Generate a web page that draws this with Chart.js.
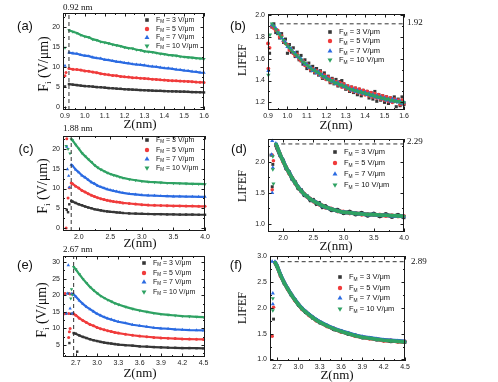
<!DOCTYPE html>
<html><head><meta charset="utf-8">
<script src="https://cdn.jsdelivr.net/npm/chart.js@4.4.1/dist/chart.umd.min.js"></script>
<style>
html,body{margin:0;padding:0;background:#fff;}
#wrap{position:relative;width:498px;height:382px;overflow:hidden;background:#fff;}
canvas{position:absolute;left:0;top:0;}
</style></head><body>
<div id="wrap">
<canvas id="pa" width="498" height="382"></canvas>
<canvas id="pb" width="498" height="382"></canvas>
<canvas id="pc" width="498" height="382"></canvas>
<canvas id="pd" width="498" height="382"></canvas>
<canvas id="pe" width="498" height="382"></canvas>
<canvas id="pf" width="498" height="382"></canvas>
</div>
<script>
// ---------- series names (F_M in V/μm) ----------
const fieldValues = ['3', '5', '7', '10'];

// ---------- panel (a): F_i vs Z, tip at 0.92 nm ----------
const zA = [0.92,0.94,0.96,0.98,1.00,1.02,1.04,1.06,1.08,1.10,1.12,1.14,1.16,1.18,1.20,1.22,1.24,1.26,1.28,1.30,1.32,1.34,1.36,1.38,1.40,1.42,1.44,1.46,1.48,1.50,1.52,1.54,1.56,1.58,1.60];
const aF3  = [5.7,5.55,5.45,5.3,5.2,5.15,5.05,4.95,4.9,4.8,4.7,4.65,4.55,4.5,4.4,4.35,4.3,4.25,4.2,4.15,4.1,4.05,4.0,4.0,3.95,3.9,3.88,3.85,3.8,3.8,3.75,3.7,3.68,3.65,3.6];
const aF5  = [9.6,9.4,9.35,9.2,9.0,8.9,8.7,8.55,8.3,8.15,8.0,7.85,7.8,7.6,7.5,7.45,7.3,7.25,7.15,7.1,7.0,6.9,6.85,6.75,6.7,6.6,6.55,6.5,6.45,6.4,6.35,6.3,6.2,6.15,6.1];
const aF7  = [13.6,13.4,13.3,13.0,12.8,12.7,12.4,12.2,12.1,11.8,11.7,11.5,11.3,11.2,11.0,10.9,10.7,10.6,10.5,10.4,10.2,10.1,10.0,9.85,9.7,9.65,9.5,9.35,9.25,9.1,9.0,8.85,8.75,8.6,8.5];
const aF10 = [19.2,18.8,18.5,18.0,17.6,17.4,16.9,16.7,16.3,16.1,15.9,15.6,15.4,15.2,14.9,14.7,14.6,14.3,14.2,13.9,13.8,13.7,13.5,13.3,13.2,13.0,12.9,12.8,12.6,12.5,12.4,12.3,12.2,12.1,12.0];
const aPre3 = [[0.90,5.1]];
const aPre5 = [[0.90,7.8],[0.905,8.6]];
const aPre7 = [[0.90,10.3]];
const aPre10 = [[0.90,14.8]];
const aXTicks = ['0.9','1.0','1.1','1.2','1.3','1.4','1.5','1.6'];
const aYTicks = ['0','5','10','15','20'];
const aGuide = 0.92;

// ---------- panel (b): LIFEF vs Z ----------
const zB = [0.92,0.93,0.94,0.95,0.96,0.97,0.98,0.99,1.00,1.01,1.02,1.03,1.04,1.05,1.06,1.07,1.08,1.09,1.10,1.11,1.12,1.13,1.14,1.15,1.16,1.17,1.18,1.19,1.20,1.21,1.22,1.23,1.24,1.25,1.26,1.27,1.28,1.29,1.30,1.31,1.32,1.33,1.34,1.35,1.36,1.37,1.38,1.39,1.40,1.41,1.42,1.43,1.44,1.45,1.46,1.47,1.48,1.49,1.50,1.51,1.52,1.53,1.54,1.55,1.56,1.57,1.58,1.59,1.60];
const bL3  = [1.89,1.92,1.84,1.83,1.79,1.83,1.75,1.78,1.65,1.73, 1.66,1.70,1.62,1.66,1.59,1.63,1.55,1.59,1.51,1.56, 1.49,1.53,1.47,1.51,1.45,1.49,1.42,1.47,1.41,1.44, 1.38,1.42,1.37,1.41,1.35,1.39,1.40,1.37,1.32,1.35, 1.30,1.34,1.29,1.33,1.27,1.32,1.26,1.31,1.29,1.30, 1.24,1.29,1.23,1.30,1.21,1.27,1.22,1.26,1.20,1.25, 1.19,1.24,1.21,1.25,1.16,1.23,1.17,1.25,1.18];
const bL5  = [1.90,1.88,1.86,1.86,1.80,1.81,1.76,1.74,1.73,1.68, 1.69,1.65,1.63,1.64,1.60,1.58,1.58,1.54,1.55,1.52, 1.50,1.51,1.48,1.49,1.46,1.48,1.43,1.45,1.41,1.43, 1.39,1.41,1.38,1.39,1.36,1.38,1.34,1.37,1.33,1.35, 1.31,1.34,1.30,1.33,1.29,1.32,1.28,1.31,1.27,1.30, 1.26,1.29,1.25,1.28,1.24,1.27,1.23,1.26,1.22,1.25, 1.21,1.24,1.20,1.23,1.21,1.22,1.18,1.22,1.19];
const bL7  = [1.91,1.90,1.88,1.84,1.83,1.79,1.77,1.75,1.71,1.70, 1.69,1.66,1.65,1.62,1.61,1.60,1.57,1.55,1.55,1.52, 1.52,1.49,1.50,1.47,1.48,1.45,1.45,1.43,1.43,1.41, 1.41,1.39,1.39,1.37,1.38,1.36,1.36,1.34,1.35,1.33, 1.33,1.31,1.32,1.30,1.31,1.29,1.30,1.28,1.29,1.27, 1.28,1.26,1.27,1.25,1.26,1.24,1.25,1.23,1.24,1.22, 1.23,1.21,1.23,1.21,1.22,1.20,1.21,1.19,1.20];
const bL10 = [1.92,1.90,1.87,1.84,1.82,1.80,1.77,1.74,1.72,1.70, 1.68,1.66,1.64,1.63,1.61,1.59,1.57,1.56,1.54,1.53, 1.51,1.50,1.49,1.48,1.47,1.46,1.44,1.44,1.42,1.41, 1.40,1.40,1.38,1.38,1.37,1.36,1.36,1.35,1.34,1.33, 1.32,1.32,1.31,1.31,1.30,1.30,1.29,1.29,1.28,1.28, 1.27,1.27,1.26,1.26,1.25,1.25,1.24,1.24,1.23,1.23, 1.23,1.22,1.22,1.21,1.21,1.21,1.20,1.20,1.20];
const bPre3 = [[0.908,1.65]];
const bPre5 = [[0.900,1.74],[0.902,1.51],[0.908,1.70]];
const bPre7 = [[0.902,1.49]];
const bPre10 = [[0.902,1.45],[0.910,1.82]];
const bXTicks = ['0.9','1.0','1.1','1.2','1.3','1.4','1.5','1.6'];
const bYTicks = ['1.2','1.4','1.6','1.8','2.0'];
const bPeak = 1.92;

// ---------- panel (c): F_i vs Z, tip at 1.88 nm ----------
const zC = [1.88,1.90,1.95,2.00,2.05,2.10,2.15,2.20,2.25,2.30,2.35,2.40,2.45,2.50,2.55,2.60,2.65,2.70,2.80,2.90,3.00,3.10,3.20,3.30,3.40,3.50,3.60,3.70,3.80,3.90,4.00];
const cF3  = [6.85,6.7,6.35,6.0,5.75,5.45,5.2,5.0,4.75,4.6,4.45,4.3,4.2,4.1,4.05,3.95,3.9,3.8,3.7,3.65,3.6,3.55,3.5,3.5,3.45,3.45,3.4,3.4,3.4,3.35,3.35];
const cF5  = [11.4,11.2,10.6,10.1,9.5,9.1,8.7,8.3,7.95,7.65,7.4,7.2,7.0,6.85,6.7,6.6,6.5,6.35,6.2,6.05,5.9,5.8,5.75,5.7,5.65,5.6,5.6,5.55,5.55,5.5,5.5];
const cF7  = [16.0,15.8,14.8,14.1,13.3,12.8,12.2,11.6,11.2,10.7,10.4,10.1,9.8,9.6,9.4,9.25,9.05,8.9,8.65,8.5,8.35,8.25,8.2,8.1,8.05,8.0,8.0,7.95,7.95,7.9,7.9];
const cF10 = [22.5,22.2,21.1,20.1,19.0,18.2,17.4,16.7,15.9,15.3,14.8,14.4,14.0,13.7,13.4,13.2,12.9,12.7,12.35,12.1,11.85,11.7,11.6,11.5,11.4,11.35,11.3,11.25,11.2,11.15,11.1];
const cPre3 = [[1.81,4.6],[1.83,4.0],[1.85,6.0]];
const cPre5 = [[1.80,0.0],[1.81,22.6],[1.83,7.6],[1.85,10.2]];
const cPre7 = [[1.81,20.6],[1.82,14.9],[1.84,13.2],[1.85,10.3]];
const cPre10 = [[1.80,20.8],[1.83,20.0],[1.86,18.9]];
const cXTicks = ['2.0','2.5','3.0','3.5','4.0'];
const cYTicks = ['0','5','10','15','20'];
const cGuide = 1.88;

// ---------- panel (d): LIFEF vs Z (same Z grid as (c)) ----------
const dL3  = [2.27,2.22,2.10,2.03,1.89,1.84,1.72,1.68,1.57,1.55,1.46,1.45,1.38,1.39,1.32,1.34,1.27,1.29,1.22,1.23,1.17,1.20,1.15,1.18,1.13,1.17,1.12,1.16,1.11,1.15,1.10];
const dL5  = [2.28,2.24,2.13,2.00,1.92,1.81,1.75,1.65,1.60,1.52,1.49,1.43,1.41,1.36,1.35,1.31,1.30,1.26,1.25,1.20,1.20,1.17,1.18,1.15,1.16,1.14,1.15,1.13,1.14,1.12,1.13];
const dL7  = [2.30,2.25,2.12,2.02,1.91,1.83,1.74,1.66,1.60,1.53,1.48,1.44,1.40,1.37,1.35,1.32,1.29,1.27,1.24,1.21,1.19,1.18,1.17,1.16,1.15,1.15,1.14,1.14,1.13,1.13,1.12];
const dL10 = [2.29,2.25,2.12,2.01,1.91,1.82,1.74,1.66,1.59,1.53,1.48,1.44,1.40,1.37,1.345,1.32,1.295,1.27,1.24,1.21,1.19,1.18,1.17,1.16,1.155,1.15,1.145,1.14,1.135,1.13,1.125];
const dPre3 = [[1.80,2.11],[1.83,1.96],[1.82,1.60]];
const dPre5 = [[1.82,2.11],[1.84,2.02],[1.82,1.55]];
const dPre7 = [[1.82,2.34],[1.81,2.12],[1.83,1.91],[1.82,1.50]];
const dPre10 = [[1.83,2.09],[1.83,1.88],[1.84,1.65]];
const dXTicks = ['2.0','2.5','3.0','3.5','4.0'];
const dYTicks = ['1.0','1.5','2.0'];
const dPeak = 2.29;

// ---------- panel (e): F_i vs Z, tip at 2.67 nm ----------
const zE = [2.67,2.70,2.75,2.80,2.85,2.90,2.95,3.00,3.05,3.10,3.15,3.20,3.25,3.30,3.40,3.50,3.60,3.70,3.80,3.90,4.00,4.10,4.20,4.30,4.40,4.50];
const eF3  = [8.6,8.4,7.9,7.45,7.1,6.75,6.45,6.2,5.95,5.75,5.6,5.45,5.3,5.15,4.95,4.8,4.6,4.5,4.4,4.3,4.2,4.15,4.1,4.1,4.05,4.0];
const eF5  = [14.4,14.0,13.1,12.4,11.8,11.2,10.8,10.3,9.9,9.6,9.3,9.05,8.8,8.6,8.25,7.95,7.7,7.5,7.3,7.15,7.05,6.95,6.85,6.8,6.75,6.7];
const eF7  = [20.2,19.6,18.4,17.4,16.5,15.8,15.1,14.4,13.9,13.4,13.0,12.7,12.3,12.0,11.6,11.1,10.8,10.5,10.2,10.0,9.9,9.7,9.6,9.5,9.45,9.4];
const eF10 = [28.5,27.8,26.3,24.9,23.7,22.5,21.5,20.6,19.8,19.2,18.6,18.1,17.6,17.2,16.5,15.9,15.4,15.0,14.6,14.3,14.1,13.9,13.7,13.6,13.5,13.4];
const ePre3 = [[2.54,20.4],[2.60,20.5],[2.66,20.4],[2.56,14.5],[2.63,14.4],[2.61,5.6],[2.72,3.0]];
const ePre5 = [[2.55,20.5],[2.62,20.4],[2.54,14.4],[2.60,14.5],[2.66,14.4],[2.62,10.0],[2.61,9.0],[2.60,7.3]];
const ePre7 = [[2.58,20.5],[2.64,20.4],[2.57,14.5],[2.65,14.5],[2.595,29.0],[2.62,16.0]];
const ePre10 = [[2.64,21.8],[2.63,19.0],[2.65,20.1]];
const eXTicks = ['2.7','3.0','3.3','3.6','3.9','4.2','4.5'];
const eYTicks = ['5','10','15','20','25','30'];
const eGuide = 2.67;

// ---------- panel (f): LIFEF vs Z (same Z grid as (e)) ----------
const fL3  = [2.87,2.79,2.63,2.47,2.37,2.24,2.16,2.05,1.99,1.91,1.87,1.80,1.77,1.71,1.66,1.58,1.55,1.49,1.47,1.42,1.42,1.38,1.38,1.35,1.36,1.33];
const fL5  = [2.88,2.81,2.61,2.49,2.35,2.26,2.14,2.07,1.97,1.93,1.85,1.82,1.75,1.73,1.64,1.60,1.53,1.51,1.45,1.44,1.40,1.40,1.36,1.37,1.34,1.35];
const fL7  = [2.89,2.81,2.63,2.49,2.37,2.26,2.16,2.07,1.99,1.93,1.87,1.82,1.77,1.73,1.66,1.60,1.55,1.51,1.47,1.44,1.42,1.40,1.38,1.37,1.36,1.35];
const fL10 = [2.88,2.80,2.62,2.48,2.36,2.25,2.15,2.06,1.98,1.92,1.86,1.81,1.76,1.72,1.65,1.59,1.54,1.50,1.46,1.43,1.41,1.39,1.37,1.36,1.35,1.34];
const fPre3 = [[2.65,1.78]];
const fPre5 = [[2.63,1.45],[2.65,2.01]];
const fPre7 = [[2.63,2.89],[2.64,2.28],[2.64,2.07]];
const fPre10 = [[2.64,2.18],[2.64,1.95]];
const fXTicks = ['2.7','3.0','3.3','3.6','3.9','4.2','4.5'];
const fYTicks = ['1.0','1.5','2.0','2.5','3.0'];
const fPeak = 2.89;

// ---------- styling ----------
const COLORS = ['#363636', '#f03b3b', '#2b6be2', '#2fa263'];
const PSTYLE = ['rect', 'circle', 'triangle', 'triangle'];
const PROT = [0, 0, 0, 180];
const RMUL = [1.15, 1.0, 1.3, 1.3];
const SANS = '"Liberation Sans", Arial, sans-serif';
const SERIF = '"Liberation Serif", "Times New Roman", serif';
const MODES = {
  curve:   {showLine: true,  lw: 2.2, pr: 1.5},
  scatter: {showLine: false, lw: 0,   pr: 1.9},
  band:    {showLine: true,  lw: 3.6, pr: 1.8}
};

const panels = [
  {id:'pa', box:{l:63,t:13,r:204,b:110}, xr:[0.89,1.6], yr:[-0.8,23.5], xt:aXTicks, yt:aYTicks, xs:zA,
   ys:[aF3,aF5,aF7,aF10], pre:[aPre3,aPre5,aPre7,aPre10], mode:'curve',
   guide:{v:aGuide}, letter:['(a)',25,26], yTitle:{kind:'Fi',x:44,y:64}, xTitle:[140,125],
   gLabel:['0.92 nm',63,8], legend:{mx:147,ys:[20,29,37.5,46],fs:7}},
  {id:'pb', box:{l:268,t:14,r:404,b:110}, xr:[0.9,1.6], yr:[1.13,2.01], xt:bXTicks, yt:bYTicks, xs:zB,
   ys:[bL3,bL5,bL7,bL10], pre:[bPre3,bPre5,bPre7,bPre10], mode:'scatter',
   guide:{h:bPeak, from:0.96, to:1.6}, letter:['(b)',238,26], yTitle:{kind:'LIFEF',x:243,y:60}, xTitle:[336,126],
   gLabel:['1.92',407,23], legend:{mx:330,ys:[32,41,51,60],fs:7.5}},
  {id:'pc', box:{l:63,t:136,r:205,b:231}, xr:[1.75,4.0], yr:[-0.76,23.3], xt:cXTicks, yt:cYTicks, xs:zC,
   ys:[cF3,cF5,cF7,cF10], pre:[cPre3,cPre5,cPre7,cPre10], mode:'curve',
   guide:{v:cGuide}, letter:['(c)',26,149], yTitle:{kind:'Fi',x:43,y:186}, xTitle:[140,244],
   gLabel:['1.88 nm',63,129], legend:{mx:147,ys:[140,150,159,168],fs:7}},
  {id:'pd', box:{l:268,t:139,r:404,b:232}, xr:[1.75,4.0], yr:[0.87,2.37], xt:dXTicks, yt:dYTicks, xs:zC,
   ys:[dL3,dL5,dL7,dL10], pre:[dPre3,dPre5,dPre7,dPre10], mode:'band',
   guide:{h:dPeak, from:1.97, to:4.0}, letter:['(d)',239,149], yTitle:{kind:'LIFEF',x:243,y:186}, xTitle:[336,247],
   gLabel:['2.29',407,142], legend:{mx:335,ys:[152,163,174,185],fs:7.5}},
  {id:'pe', box:{l:63,t:256,r:205,b:357}, xr:[2.52,4.52], yr:[1.4,31.8], xt:eXTicks, yt:eYTicks, xs:zE,
   ys:[eF3,eF5,eF7,eF10], pre:[ePre3,ePre5,ePre7,ePre10], mode:'curve',
   guide:{v:eGuide}, letter:['(e)',25,265], yTitle:{kind:'Fi',x:42,y:310}, xTitle:[140,374],
   gLabel:['2.67 nm',63,250], legend:{mx:144,ys:[263,273,282,292],fs:7}},
  {id:'pf', box:{l:270,t:256,r:405,b:361}, xr:[2.6,4.5], yr:[0.97,3.0], xt:fXTicks, yt:fYTicks, xs:zE,
   ys:[fL3,fL5,fL7,fL10], pre:[fPre3,fPre5,fPre7,fPre10], mode:'band',
   guide:{h:fPeak, from:2.75, to:4.5}, letter:['(f)',236,265], yTitle:{kind:'LIFEF',x:243,y:308}, xTitle:[337,376],
   gLabel:['2.89',411,262], legend:{mx:340,ys:[277,288,298,309],fs:7.5}}
];

function drawParts(ctx, parts, x, y, size, family, align, color) {
  ctx.fillStyle = color;
  ctx.textBaseline = 'middle';
  ctx.textAlign = 'left';
  let total = 0;
  const w = parts.map(p => {
    ctx.font = (p.sub ? size * 0.65 : size) + 'px ' + family;
    const m = ctx.measureText(p.t).width;
    total += m;
    return m;
  });
  let cx = align === 'center' ? x - total / 2 : x;
  parts.forEach((p, i) => {
    ctx.font = (p.sub ? size * 0.65 : size) + 'px ' + family;
    ctx.fillText(p.t, cx, p.sub ? y + size * 0.32 : y);
    cx += w[i];
  });
}

function marker(ctx, k, x, y, r) {
  ctx.fillStyle = COLORS[k];
  ctx.beginPath();
  if (k === 0) { const s = r * Math.SQRT1_2; ctx.rect(x - s, y - s, 2 * s, 2 * s); }
  else if (k === 1) { ctx.arc(x, y, r, 0, Math.PI * 2); }
  else {
    const d = k === 2 ? -1 : 1;
    ctx.moveTo(x, y + d * r);
    ctx.lineTo(x - r * 0.866, y - d * r * 0.5);
    ctx.lineTo(x + r * 0.866, y - d * r * 0.5);
    ctx.closePath();
  }
  ctx.fill();
}

function decor(cfg) {
  return {
    id: 'decor_' + cfg.id,
    afterDraw(chart) {
      const ctx = chart.ctx, a = chart.chartArea, xs = chart.scales.x, ys = chart.scales.y;
      ctx.save();
      ctx.strokeStyle = '#1a1a1a';
      ctx.lineWidth = 1;
      ctx.strokeRect(a.left + 0.5, a.top + 0.5, a.right - a.left - 1, a.bottom - a.top - 1);
      ctx.beginPath();
      const xv = cfg.xt.map(parseFloat), yv = cfg.yt.map(parseFloat);
      const dx = xv[1] - xv[0], dy = yv[1] - yv[0];
      xv.forEach(v => {
        const p = Math.round(xs.getPixelForValue(v)) + 0.5;
        ctx.moveTo(p, a.bottom); ctx.lineTo(p, a.bottom - 3.5);
        ctx.moveTo(p, a.top); ctx.lineTo(p, a.top + 3.5);
      });
      for (let v = xv[0] - dx / 2; v <= xs.max + 1e-9; v += dx) {
        if (v < xs.min) continue;
        const p = Math.round(xs.getPixelForValue(v)) + 0.5;
        ctx.moveTo(p, a.bottom); ctx.lineTo(p, a.bottom - 2);
        ctx.moveTo(p, a.top); ctx.lineTo(p, a.top + 2);
      }
      yv.forEach(v => {
        const p = Math.round(ys.getPixelForValue(v)) + 0.5;
        ctx.moveTo(a.left, p); ctx.lineTo(a.left + 3.5, p);
        ctx.moveTo(a.right, p); ctx.lineTo(a.right - 3.5, p);
      });
      for (let v = yv[0] - dy / 2; v <= ys.max + 1e-9; v += dy) {
        if (v < ys.min) continue;
        const p = Math.round(ys.getPixelForValue(v)) + 0.5;
        ctx.moveTo(a.left, p); ctx.lineTo(a.left + 2, p);
        ctx.moveTo(a.right, p); ctx.lineTo(a.right - 2, p);
      }
      ctx.stroke();
      ctx.fillStyle = '#111';
      ctx.font = '13px ' + SANS;
      ctx.textAlign = 'center'; ctx.textBaseline = 'middle';
      ctx.fillText(cfg.letter[0], cfg.letter[1], cfg.letter[2]);
      ctx.font = '13px ' + SERIF;
      ctx.fillText('Z(nm)', cfg.xTitle[0], cfg.xTitle[1]);
      ctx.save();
      ctx.translate(cfg.yTitle.x, cfg.yTitle.y);
      ctx.rotate(-Math.PI / 2);
      if (cfg.yTitle.kind === 'Fi') {
        drawParts(ctx, [{t:'F'}, {t:'i', sub:true}, {t:' (V/\u03bcm)'}], 0, 0, 14, SERIF, 'center', '#111');
      } else {
        ctx.font = '12px ' + SERIF; ctx.textAlign = 'center'; ctx.textBaseline = 'middle';
        ctx.fillStyle = '#111';
        ctx.fillText('LIFEF', 0, 0);
      }
      ctx.restore();
      ctx.font = '9px ' + SERIF;
      ctx.fillStyle = '#111'; ctx.textAlign = 'left'; ctx.textBaseline = 'middle';
      ctx.fillText(cfg.gLabel[0], cfg.gLabel[1], cfg.gLabel[2]);
      const L = cfg.legend;
      for (let k = 0; k < 4; k++) {
        marker(ctx, k, L.mx, L.ys[k], 2.2 * RMUL[k]);
        drawParts(ctx, [{t:'F'}, {t:'M', sub:true}, {t:' = ' + fieldValues[k] + ' V/\u03bcm'}],
          L.mx + 9, L.ys[k], L.fs, SANS, 'left', '#111');
      }
      ctx.restore();
    }
  };
}

function build(cfg) {
  const m = MODES[cfg.mode];
  const datasets = [];
  for (let k = 0; k < 4; k++) {
    const pre = cfg.pre[k].map(p => ({x: p[0], y: p[1]}));
    const nPre = pre.length;
    const main = cfg.xs.map((x, i) => ({x: x, y: cfg.ys[k][i]}));
    datasets.push({
      data: pre.concat(main),
      showLine: m.showLine,
      borderColor: COLORS[k],
      backgroundColor: COLORS[k],
      borderWidth: m.lw,
      pointStyle: PSTYLE[k],
      pointRotation: PROT[k],
      pointRadius: m.pr * RMUL[k],
      pointBorderWidth: 0,
      pointHoverRadius: 0,
      order: 4 - k,
      clip: false,
      segment: { borderColor: c => (c.p0DataIndex < nPre ? 'rgba(0,0,0,0)' : undefined) }
    });
  }
  const g = cfg.guide;
  const gData = g.v !== undefined
    ? [{x: g.v, y: cfg.yr[0]}, {x: g.v, y: cfg.yr[1]}]
    : [{x: g.from, y: g.h}, {x: g.to, y: g.h}];
  datasets.push({
    data: gData, showLine: true, borderColor: '#333', borderWidth: 1,
    borderDash: [4, 3], pointRadius: 0, order: 0
  });
  const tickFont = {family: SANS, size: 7};
  new Chart(document.getElementById(cfg.id), {
    type: 'scatter',
    data: {datasets},
    options: {
      responsive: false, animation: false, events: [],
      layout: {padding: {left: cfg.box.l - 30, top: cfg.box.t, right: 498 - cfg.box.r, bottom: 382 - cfg.box.b - 20}},
      plugins: {legend: {display: false}, tooltip: {enabled: false}},
      scales: {
        x: {
          type: 'linear', min: cfg.xr[0], max: cfg.xr[1],
          grid: {display: false, drawTicks: false}, border: {display: false},
          ticks: {font: tickFont, color: '#222', padding: 2, maxRotation: 0, autoSkip: false,
                  callback: (v, i) => cfg.xt[i]},
          afterBuildTicks: ax => { ax.ticks = cfg.xt.map(s => ({value: parseFloat(s)})); },
          afterFit: ax => { ax.height = 20; }
        },
        y: {
          type: 'linear', min: cfg.yr[0], max: cfg.yr[1],
          grid: {display: false, drawTicks: false}, border: {display: false},
          ticks: {font: tickFont, color: '#222', padding: 3, autoSkip: false,
                  callback: (v, i) => cfg.yt[i]},
          afterBuildTicks: ax => { ax.ticks = cfg.yt.map(s => ({value: parseFloat(s)})); },
          afterFit: ax => { ax.width = 30; }
        }
      }
    },
    plugins: [decor(cfg)]
  });
}

panels.forEach(build);
</script>
</body></html>
